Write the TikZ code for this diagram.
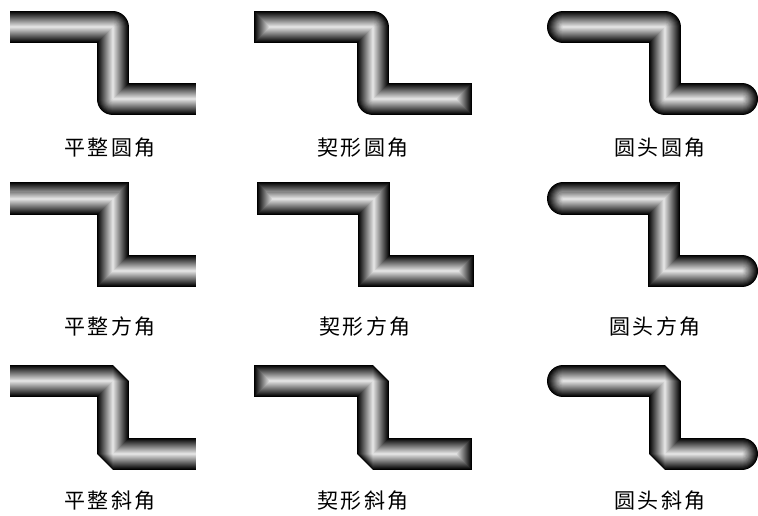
\documentclass[tikz,border=0pt]{standalone}
\usepackage{fontspec}
\newfontfamily\cjk[LetterSpace=12]{Noto Sans CJK SC}
\tikzset{
  lbl/.style={font=\cjk\fontsize{21}{21}\selectfont, text=black, inner sep=0pt, anchor=center}
}
\newcommand\pipe[3]{%
  \foreach \i in {0,...,15}{%
    \pgfmathsetmacro\w{32-2*\i}%
    \pgfmathsetmacro\p{100-88*\i/15}%
    \draw[line width=\w pt, line cap=#1, line join=#2, color=black!\p] #3;
  }}
\begin{document}
\begin{tikzpicture}[x=1pt,y=-1pt]
\useasboundingbox[fill=white] (0,0) rectangle (758,516);
% row 1: round joins
\pipe{butt}{round}{(10,27) -| (112.5,99) -- (196,99)}
\pipe{rect}{round}{(270,27) -| (372.5,99) -- (456,99)}
\pipe{round}{round}{(563,27) -| (664.5,99) -- (742,99)}
% row 2: miter joins
\pipe{butt}{miter}{(10,198.5) -| (112.5,271) -- (196,271)}
\pipe{rect}{miter}{(273,198.5) -| (374,271) -- (458,271)}
\pipe{round}{miter}{(563,198.5) -| (664,271) -- (742,271)}
% row 3: bevel joins
\pipe{butt}{bevel}{(10,381) -| (112.5,453.5) -- (196,453.5)}
\pipe{rect}{bevel}{(270,381) -| (372.5,453.5) -- (456,453.5)}
\pipe{round}{bevel}{(563,381) -| (664.5,453.5) -- (742,453.5)}
% labels
\node[lbl] (l11) at (110,148) {平整圆角};
\node[lbl] (l12) at (363,148) {契形圆角};
\node[lbl] (l13) at (660,148) {圆头圆角};
\node[lbl] (l21) at (110,327) {平整方角};
\node[lbl] (l22) at (365,327) {契形方角};
\node[lbl] (l23) at (655,327) {圆头方角};
\node[lbl] (l31) at (110,501) {平整斜角};
\node[lbl] (l32) at (363,501) {契形斜角};
\node[lbl] (l33) at (660,501) {圆头斜角};
\end{tikzpicture}
\end{document}
